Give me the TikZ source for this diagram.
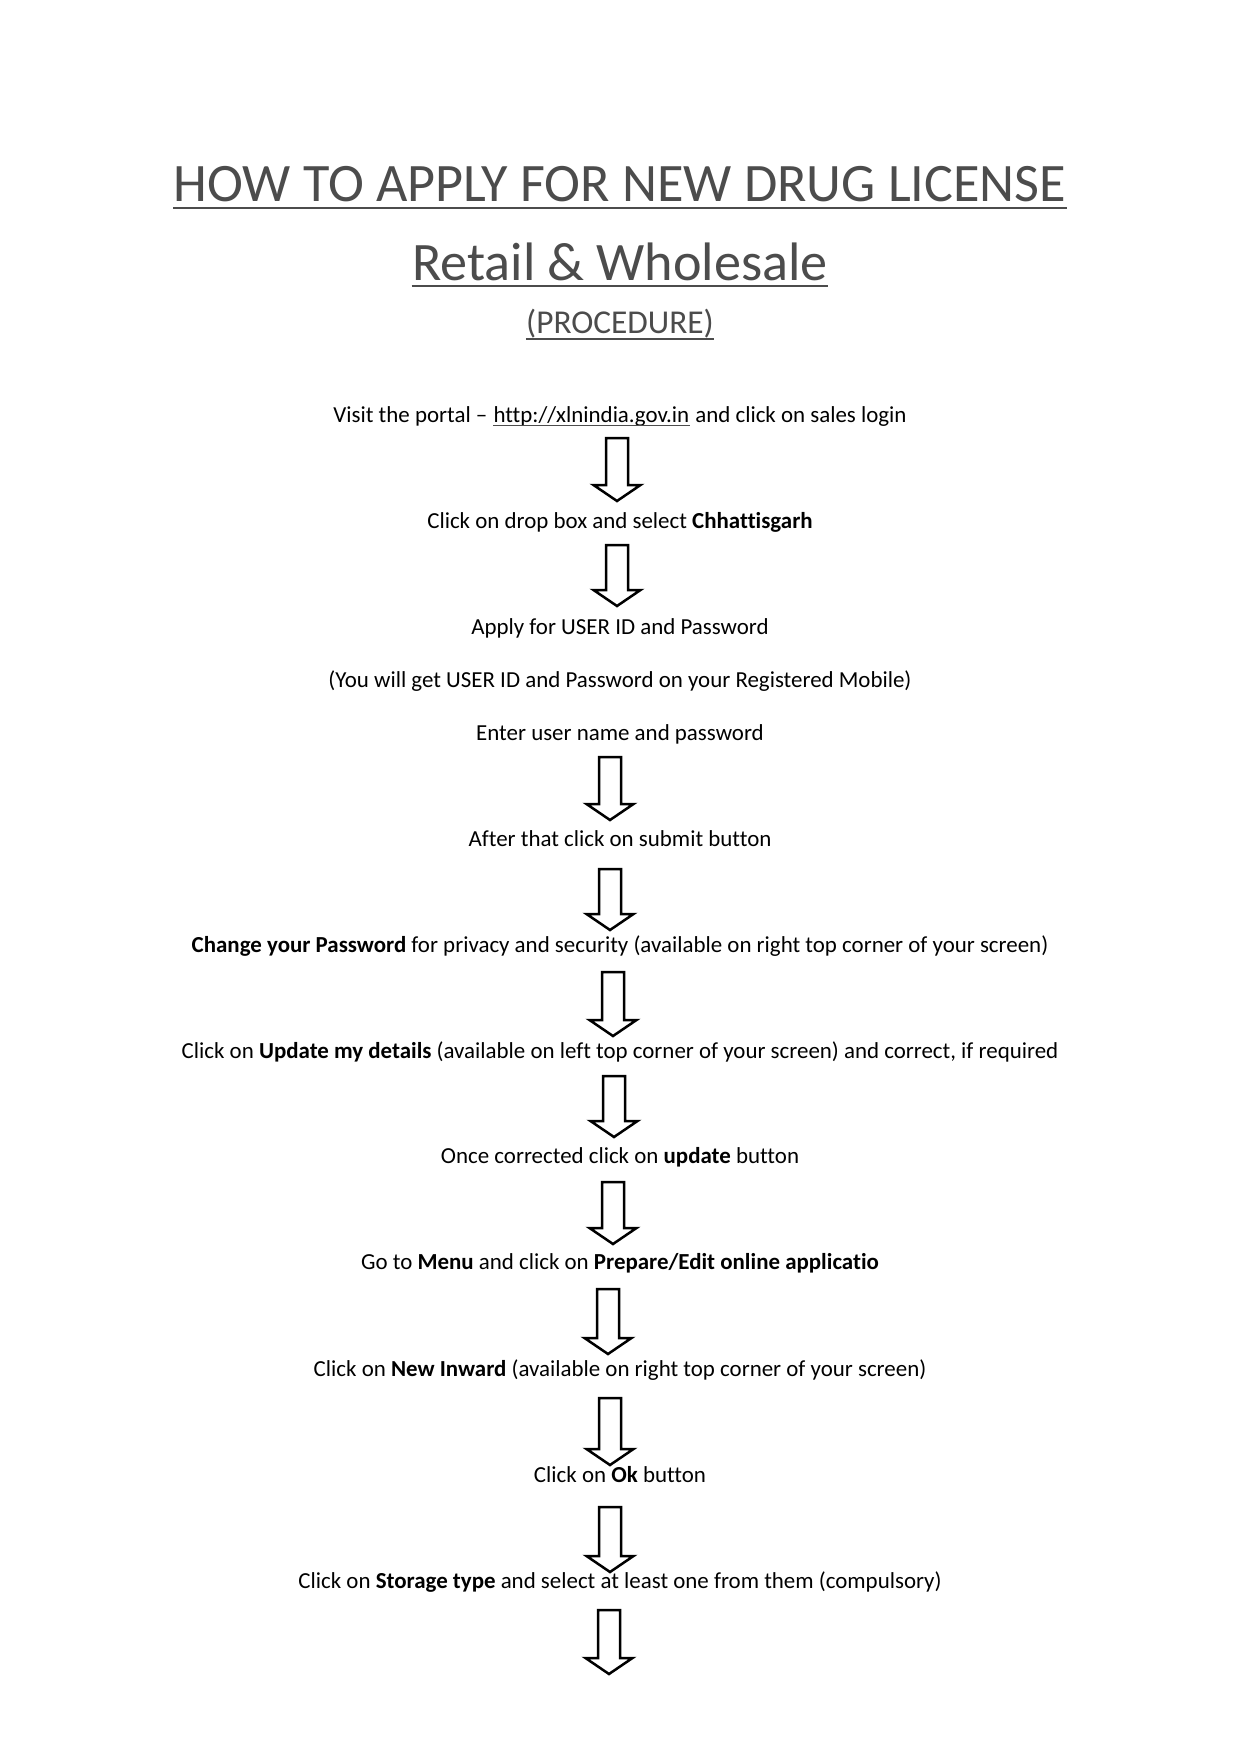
\documentclass[tikz,border=0pt]{standalone}
\usepackage{fontspec}
\setmainfont{Carlito}[Ligatures=CommonOff]
\definecolor{ttlgray}{gray}{0.3}
\newcommand\urlul[1]{\begin{tikzpicture}[baseline=(u.base)]\node[inner sep=0pt] (u) {#1};\draw[ttlgray,line width=0.5pt] ([yshift=-1.6pt]u.base west) -- ([yshift=-1.6pt]u.base east);\end{tikzpicture}}
\newcommand\blockarrow[3]{%
  \draw[darrow] ({#1-11},#2) -- ({#1+11},#2) -- ({#1+11},{#3-16}) -- ({#1+23.5},{#3-16})
    -- (#1,#3) -- ({#1-23.5},{#3-16}) -- ({#1-11},{#3-16}) -- cycle;}
\begin{document}
\begin{tikzpicture}[x=0.48pt,y=-0.48pt,
  txt/.style={anchor=base,inner sep=0pt,font=\fontsize{11}{13}\selectfont},
  ttl/.style={anchor=base,inner sep=0pt,text=ttlgray},
  ul/.style={draw=ttlgray,line width=1.1pt},
  darrow/.style={draw=black,line width=1.2pt,fill=white,line join=miter}]
\useasboundingbox[fill=white] (0,0) rectangle (1240,1754);

\node[ttl,font=\fontsize{26}{30}\selectfont] (title) at (620,201) {HOW TO APPLY FOR NEW DRUG LICENSE};
\draw[ul] ([yshift=-3.4pt]title.base west) -- ([yshift=-3.4pt]title.base east);
\node[ttl,font=\fontsize{26}{30}\selectfont] (sub) at (620,280) {Retail \& Wholesale};
\draw[ul] ([yshift=-2.9pt]sub.base west) -- ([yshift=-2.9pt]sub.base east);
\node[ttl,font=\fontsize{16}{19}\selectfont] (proc) at (620,333) {(PROCEDURE)};
\draw[ul,line width=0.8pt] ([yshift=-2.9pt]proc.base west) -- ([yshift=-2.9pt]proc.base east);

\node[txt] (s1) at (620,422) {Visit the portal -- \urlul{http://xlnindia.gov.in} and click on sales login};
\node[txt] (s2) at (620,528) {Click on drop box and select \textbf{Chhattisgarh}};
\node[txt] (s3) at (620,634) {Apply for USER ID and Password};
\node[txt] (s4) at (620,687) {(You will get USER ID and Password on your Registered Mobile)};
\node[txt] (s5) at (620,740) {Enter user name and password};
\node[txt] (s6) at (620,846) {After that click on submit button};
\node[txt] (s7) at (620,952) {\textbf{Change your Password} for privacy and security (available on right top corner of your screen)};
\node[txt] (s8) at (620,1058) {Click on \textbf{Update my details} (available on left top corner of your screen) and correct, if required};
\node[txt] (s9) at (620,1163) {Once corrected click on \textbf{update} button};
\node[txt] (s10) at (620,1269) {Go to \textbf{Menu} and click on \textbf{Prepare/Edit online applicatio}};
\node[txt] (s11) at (620,1376) {Click on \textbf{New Inward} (available on right top corner of your screen)};
\node[txt] (s12) at (620,1482) {Click on \textbf{Ok} button};
\node[txt] (s13) at (620,1588) {Click on \textbf{Storage type} and select at least one from them (compulsory)};

\blockarrow{617}{438}{501}
\blockarrow{617}{545}{606}
\blockarrow{610}{757}{820}
\blockarrow{610}{869}{930}
\blockarrow{613}{972}{1036}
\blockarrow{614}{1076}{1137}
\blockarrow{613}{1182}{1244}
\blockarrow{608}{1289}{1354}
\blockarrow{610}{1398}{1465}
\blockarrow{610}{1507}{1572}
\blockarrow{609}{1610}{1674}
\end{tikzpicture}
\end{document}
